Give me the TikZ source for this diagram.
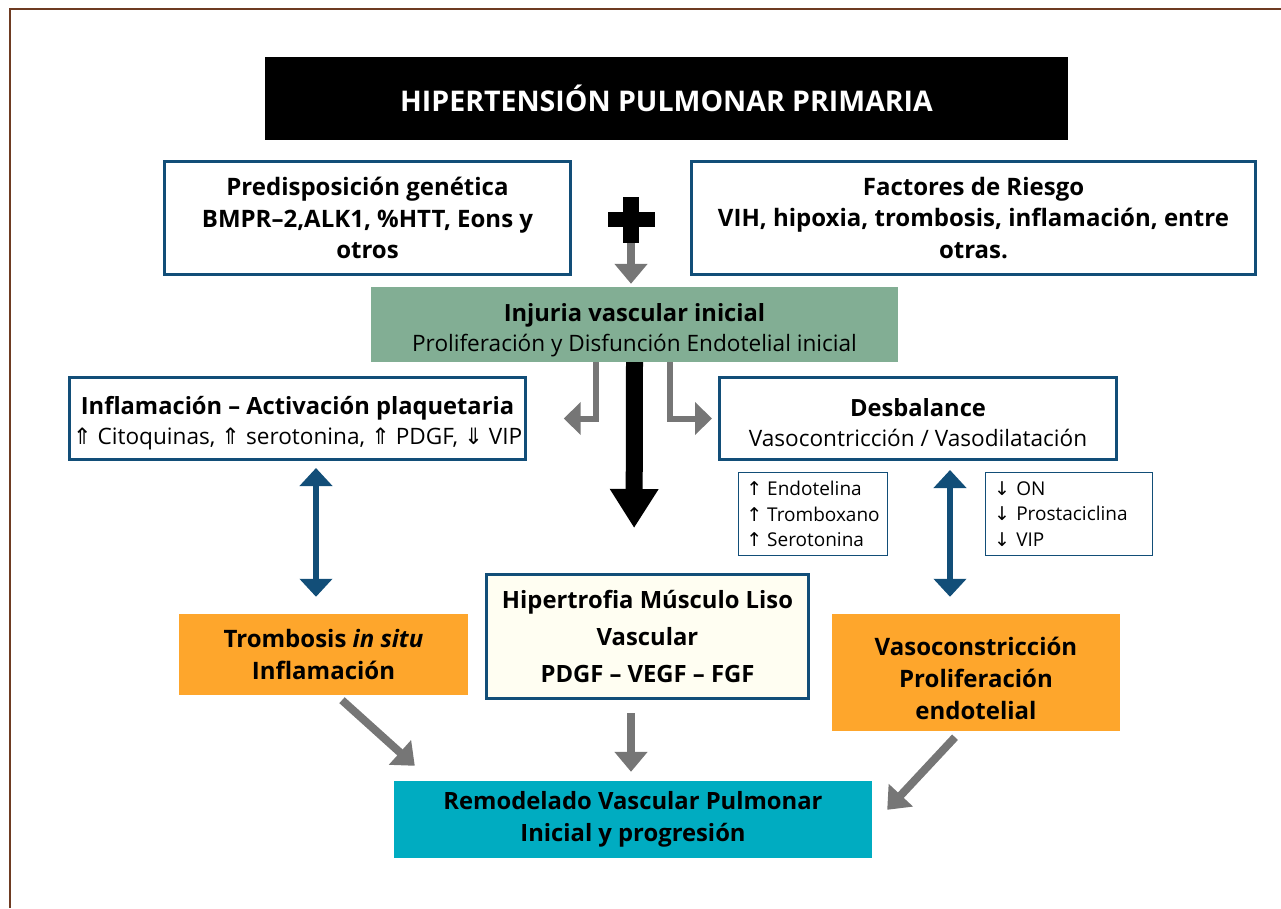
\documentclass[tikz,border=0pt]{standalone}
\usepackage{fontspec}
\setmainfont{Open Sans}
\newfontfamily\arrowfont{DejaVu Sans}
\usepackage{xcolor}
\usetikzlibrary{arrows.meta,positioning}
\definecolor{phblue}{HTML}{124E78}
\definecolor{phgreen}{HTML}{82AE94}
\definecolor{phorange}{HTML}{FEA62C}
\definecolor{phteal}{HTML}{00ACC1}
\definecolor{phcream}{HTML}{FFFEF2}
\definecolor{phgray}{HTML}{767676}
\definecolor{phbrown}{HTML}{6E3B22}
\newcommand{\up}{{\arrowfont ⇑}}
\newcommand{\down}{{\arrowfont ⇓}}
\newcommand{\rise}{{\arrowfont ↑}}
\newcommand{\fall}{{\arrowfont ↓}}
\newcommand{\headline}[1]{{\fontsize{23.7}{30}\selectfont\bfseries #1}}
\newcommand{\topgap}[1]{\rule{0pt}{#1}}
\tikzset{
  titlebox/.style={rectangle, fill=black, text=white, minimum width=803pt, minimum height=83pt,
    align=center, font=\fontsize{28.5}{31}\selectfont\bfseries},
  factorbox/.style={rectangle, draw=phblue, fill=white, line width=3pt, minimum height=113pt,
    align=center, font=\fontsize{24}{31.5}\selectfont\bfseries, inner sep=3pt},
  injurybox/.style={rectangle, fill=phgreen, minimum width=527pt, minimum height=75pt,
    align=center, font=\fontsize{22.6}{30}\selectfont, inner sep=3pt},
  effectbox/.style={rectangle, draw=phblue, fill=white, line width=3pt, minimum height=82pt,
    align=center, font=\fontsize{22.6}{30}\selectfont, inner sep=3pt},
  mediatorbox/.style={rectangle, draw=phblue, fill=white, line width=1.5pt, minimum height=83pt,
    align=left, font=\fontsize{19}{25.5}\selectfont, inner sep=3pt},
  orangebox/.style={rectangle, fill=phorange, align=center,
    font=\fontsize{24}{31.5}\selectfont\bfseries, inner sep=3pt},
  hyperbox/.style={rectangle, draw=phblue, fill=phcream, line width=3pt, minimum width=322pt,
    minimum height=124pt, align=center, font=\fontsize{23.8}{37}\selectfont\bfseries},
  remodelbox/.style={rectangle, fill=phteal, minimum width=478pt, minimum height=77pt,
    align=center, font=\fontsize{23.8}{32}\selectfont\bfseries},
  plusbar/.style={rectangle, fill=black, inner sep=0pt},
  grayarrow/.style={-{Triangle[width=32pt,length=20pt]}, draw=phgray, line width=8pt},
  elbowarrow/.style={-{Triangle[width=32pt,length=17pt]}, draw=phgray, line width=6pt},
  bigarrow/.style={-{Triangle[width=46pt,length=39pt]}, draw=black, line width=17pt},
  bluearrow/.style={{Triangle[width=32pt,length=18pt]}-{Triangle[width=32pt,length=18pt]},
    draw=phblue, line width=6pt},
}

\begin{document}
\begin{tikzpicture}[x=1pt, y=-1pt]
  \useasboundingbox (0,0) rectangle (1281,908);
  % frame (only top and left edges show)
  \draw[phbrown, line width=2pt] (10,908) -- (10,9) -- (1281,9);

  % Title and the two causes
  \node[titlebox] (title) at (666.5,98.5) {HIPERTENSIÓN PULMONAR PRIMARIA};
  \node[factorbox, minimum width=406pt] (genetic) at (367.5,218)
    {Predisposición genética\\BMPR–2,ALK1, \%HTT, Eons y\\otros};
  \node[factorbox, minimum width=564pt] (risk) at (973.5,218)
    {Factores de Riesgo\\VIH, hipoxia, trombosis, inflamación, entre\\otras.};
  \node[plusbar, minimum width=47pt, minimum height=15pt] (plush) at (631.5,219.5) {};
  \node[plusbar, minimum width=16pt, minimum height=46pt] (plusv) at (631,220) {};

  % Initial injury
  \node[injurybox] (injury) at (634.5,324.5)
    {\topgap{30pt}\headline{Injuria vascular inicial}\\Proliferación y Disfunción Endotelial inicial};

  % Second level
  \node[effectbox, minimum width=452pt] (inflam) at (297.5,418.5)
    {\topgap{28pt}\headline{Inflamación – Activación plaquetaria}\\\up~Citoquinas, \up~serotonina, \up~PDGF, \down~VIP};
  \node[effectbox, minimum width=397pt] (imbalance) at (918,418.5)
    {\topgap{27pt}\headline{Desbalance}\\Vasocontricción / Vasodilatación};
  \node[mediatorbox, minimum width=149pt] (raised) at (813,514)
    {\rise~Endotelina\\\rise~Tromboxano\\\rise~Serotonina};
  \node[mediatorbox, minimum width=167pt, text width=150pt] (lowered) at (1069,514)
    {\fall~ON\\\fall~Prostaciclina\\\fall~VIP};

  % Third level
  \node[orangebox, minimum width=289pt, minimum height=81pt] (thromb) at (323.5,654.5)
    {Trombosis \textit{in situ}\\Inflamación};
  \node[hyperbox] (hyper) at (647.5,636.5)
    {Hipertrofia Músculo Liso\\Vascular\\PDGF – VEGF – FGF};
  \node[orangebox, minimum width=288pt, minimum height=117pt, font=\fontsize{24}{32}\selectfont\bfseries] (vasoc) at (976,672.5)
    {\topgap{30pt}Vasoconstricción\\Proliferación\\endotelial};

  % Outcome
  \node[remodelbox] (remodel) at (633,819.5)
    {Remodelado Vascular Pulmonar\\Inicial y progresión};

  % Arrows
  \draw[grayarrow, shorten >=3pt] (plusv.south) -- (injury.north -| plusv.south);
  \draw[elbowarrow, shorten >=37pt] ([xshift=-38.5pt]injury.south) |- (inflam.east);
  \draw[elbowarrow, shorten >=6pt] ([xshift=35.5pt]injury.south) |- (imbalance.west);
  \draw[bigarrow, shorten >=45pt] (injury.south) -- ([xshift=-13.5pt]hyper.north);
  \draw[bluearrow] ([xshift=18.5pt,yshift=-7pt]inflam.south) -- ([xshift=-7.5pt,yshift=17pt]thromb.north);
  \draw[bluearrow] ([xshift=32pt,yshift=-9pt]imbalance.south) -- ([xshift=-26pt,yshift=17pt]vasoc.north);
  \draw[grayarrow] ([xshift=18.5pt,yshift=-5pt]thromb.south) -- ([xshift=21pt,yshift=15pt]remodel.north west);
  \draw[grayarrow, shorten <=13pt, shorten >=9pt] ([xshift=-16.5pt]hyper.south) -- ([xshift=-2pt]remodel.north);
  \draw[grayarrow] ([xshift=-21pt,yshift=-6pt]vasoc.south) -- ([xshift=15pt,yshift=-29pt]remodel.north east);

\end{tikzpicture}
\end{document}
